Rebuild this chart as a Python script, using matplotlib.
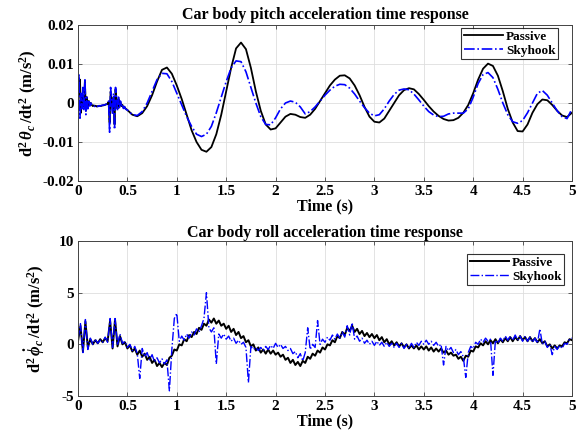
import numpy as np
import matplotlib.pyplot as plt

plt.rcParams['font.family'] = 'Liberation Serif'
plt.rcParams['font.weight'] = 'bold'
plt.rcParams['axes.labelweight'] = 'bold'
plt.rcParams['axes.titleweight'] = 'bold'
plt.rcParams['mathtext.fontset'] = 'custom'
plt.rcParams['mathtext.rm'] = 'Liberation Serif:bold'
plt.rcParams['mathtext.it'] = 'Liberation Serif:italic:bold'
plt.rcParams['mathtext.bf'] = 'Liberation Serif:bold'

# pitch acceleration, units of 1e-3 rad/s^2
# start-up transient, sampled every 0.01 s from 0 to 0.49 s
pitch_passive_start = [0, 3.5, 6.0, -2.5, 2.0, 1.0, -1.0, 5.5, -2.0, 1.5,
                       -1.0, 0.5, -0.5, 0, -0.5, -0.8, -0.6, -0.8, -0.7, -0.9,
                       -0.8, -0.8, -0.7, -0.8, -0.7, -0.6, -0.6, -0.5, -0.4, -0.3,
                       -0.2, 0.3, -5.0, 3.0, 0.5, -2.0, 1.5, -5.5, 3.5, 0.5,
                       -1.5, 1.0, -0.8, 0.2, -0.8, -0.5, -1.2, -1.0, -1.4, -1.6]
pitch_skyhook_start = [0, 7.2, -3.9, 2.5, -1.5, 4.0, -2.0, 6.3, -3.0, 1.5,
                       -1.5, 0.8, -0.8, 0, -0.5, -0.7, -0.6, -0.9, -0.6, -0.8,
                       -0.9, -0.7, -0.8, -0.7, -0.6, -0.6, -0.5, -0.5, -0.4, -0.2,
                       0.0, 0.5, -7.5, 4.0, 1.0, -3.0, 2.5, -6.8, 4.0, 1.5,
                       -2.0, 1.5, -1.2, 0.5, -1.0, -0.3, -1.4, -0.9, -1.5, -1.7]
# remainder, sampled every 0.05 s from 0.5 to 5.0 s
pitch_passive_main = [-1.8, -3.0, -3.4, -2.6, -0.8, 2.0, 5.5, 8.5, 9.1, 7.5,
                      4.5, 1.0, -3.0, -7.0, -10.0, -12.0, -12.5, -11.3, -8.0, -3.0,
                      3.0, 9.0, 14.0, 15.5, 13.8, 9.0, 3.0, -2.0, -5.5, -6.8,
                      -6.5, -5.0, -3.5, -2.8, -3.0, -3.6, -3.8, -3.0, -1.5, 0.5,
                      2.5, 4.5, 6.0, 7.0, 7.1, 6.3, 4.5, 2.0, -1.0, -3.5,
                      -4.8, -5.0, -4.0, -2.0, 0.0, 2.0, 3.3, 3.8, 3.5, 2.3,
                      0.8, -0.8, -2.2, -3.3, -4.1, -4.5, -4.4, -3.8, -2.5, -0.5,
                      2.5, 6.0, 8.8, 10.1, 9.5, 7.0, 3.0, -1.5, -5.0, -7.2,
                      -7.3, -5.5, -2.5, -0.3, 0.9, 0.7, -0.5, -2.0, -3.2, -3.6,
                      -2.5]
pitch_skyhook_main = [-1.8, -3.0, -3.2, -2.2, 0.0, 3.0, 6.0, 7.6, 7.5, 5.5,
                      2.5, -0.5, -3.5, -6.0, -8.0, -8.6, -8.0, -6.0, -2.5, 1.5,
                      5.5, 9.0, 10.8, 10.6, 8.0, 4.0, 0.0, -3.5, -5.5, -5.6,
                      -3.8, -1.5, 0.0, 0.5, 0.2, -1.0, -2.8, -2.2, -1.0, 0.5,
                      2.0, 3.3, 4.3, 4.8, 4.7, 3.8, 2.3, 0.5, -1.2, -2.6,
                      -3.3, -3.0, -1.5, 0.5, 2.2, 3.3, 3.6, 3.4, 2.3, 0.8,
                      -0.8, -2.2, -3.1, -3.5, -3.4, -2.8, -2.6, -2.6, -2.6, -1.5,
                      1.5, 5.0, 7.3, 7.8, 6.5, 3.5, 0.0, -3.0, -4.8, -5.2,
                      -4.5, -2.5, 0.0, 2.5, 3.2, 2.0, 0.0, -2.0, -3.5, -4.0,
                      -1.5]

# roll acceleration (m/s^2), sampled every 0.025 s from 0 to 5 s
roll_passive = [0.3, 1.8, -0.7, 2.2, -0.3, 0.5, 0.0, 0.4, 0.1, 0.5,
                0.2, 0.6, 0.3, 2.3, -0.4, 2.4, -0.2, 0.8, 0.0, 0.2,
                -0.4, -0.1, -0.7, -0.4, -1.0, -0.6, -1.2, -0.9, -1.5, -1.2,
                -1.8, -1.5, -2.1, -1.8, -2.2, -1.8, -2.0, -1.3, -1.1, -0.5,
                -0.6, 0.0, -0.1, 0.5, 0.3, 0.9, 0.7, 1.2, 1.0, 1.6,
                1.4, 2.0, 1.8, 2.4, 2.1, 2.5, 2.0, 2.3, 1.8, 2.0,
                1.5, 1.8, 1.2, 1.5, 0.9, 1.2, 0.6, 0.8, 0.2, 0.4,
                -0.2, 0.0, -0.6, -0.3, -0.8, -0.5, -0.9, -0.5, -0.9, -0.6,
                -1.0, -0.8, -1.2, -1.0, -1.5, -1.3, -1.8, -1.5, -2.0, -1.7,
                -2.1, -1.6, -1.8, -1.2, -1.4, -0.9, -1.1, -0.6, -0.8, -0.3,
                -0.5, 0.0, -0.1, 0.4, 0.2, 0.8, 0.6, 1.2, 0.9, 1.6,
                1.3, 1.8, 1.2, 1.5, 1.0, 1.3, 0.8, 1.1, 0.7, 1.0,
                0.6, 0.9, 0.4, 0.7, 0.2, 0.5, 0.0, 0.3, -0.1, 0.2,
                -0.2, 0.1, -0.3, 0.0, -0.4, -0.1, -0.4, -0.1, -0.5, -0.2,
                -0.5, -0.2, -0.6, -0.3, -0.7, -0.4, -0.7, -0.4, -0.8, -0.6,
                -1.0, -0.8, -1.1, -1.0, -1.4, -1.2, -1.6, -1.1, -1.2, -0.6,
                -0.7, -0.2, -0.3, 0.1, -0.1, 0.3, 0.0, 0.4, 0.1, 0.5,
                0.1, 0.5, 0.2, 0.6, 0.3, 0.7, 0.3, 0.7, 0.4, 0.8,
                0.4, 0.7, 0.3, 0.7, 0.3, 0.6, 0.2, 0.5, 0.1, 0.3,
                -0.2, 0.0, -0.4, -0.1, -0.4, -0.1, -0.2, 0.2, 0.1, 0.5,
                0.4]
roll_skyhook = [0.5, 2.0, -0.8, 2.4, -0.5, 0.6, 0.0, 0.5, 0.1, 0.4,
                0.2, 0.7, 0.2, 2.5, -0.3, 2.5, -0.1, 1.0, 0.1, 0.3,
                -0.3, 0.0, -0.6, -0.2, -0.9, -3.3, -0.4, -1.2, -0.8, -1.5,
                -1.0, -1.7, -1.3, -1.8, -1.4, -1.9, -1.5, -4.5, -0.5, 2.5,
                3.0, 0.3, 0.8, 0.4, 1.0, 0.6, 1.2, 0.9, 1.5, 1.2,
                1.8, 2.5, 5.0, 1.6, 1.2, 1.6, -1.9, 1.0, 0.6, 1.0,
                0.5, 0.8, 0.3, 0.6, 0.1, 0.4, 0.0, 0.2, -0.3, -3.7,
                -0.2, -0.5, -0.3, -0.6, -0.3, -0.6, -0.2, -0.5, -0.1, -0.4,
                0.1, -0.3, 0.0, -0.4, -0.2, -0.6, -0.4, -0.9, -0.7, -1.3,
                -0.9, -1.6, -0.8, 1.6, -0.5, 0.0, -0.3, 2.3, 0.0, 0.5,
                0.2, 0.7, 0.4, 0.9, 0.5, 1.0, 0.6, 1.2, 0.7, 1.8,
                0.9, 2.1, 0.5, 0.8, 0.3, 0.6, 0.1, 0.4, 0.0, 0.3,
                -0.1, 0.3, -0.1, 0.2, -0.2, 0.2, -0.2, 0.1, -0.3, 0.1,
                -0.3, 0.1, -0.4, 0.0, -0.4, 0.1, -0.3, 0.2, -0.1, 0.3,
                0.0, 0.4, 0.0, 0.3, -0.1, 0.2, -0.2, 0.0, -2.0, -0.2,
                -0.6, -0.3, -0.8, -0.5, -1.0, -0.7, -1.2, -3.2, -0.8, -0.2,
                -0.4, 0.2, 0.0, 0.5, 0.2, 0.6, 0.3, 0.5, -3.0, 0.4,
                0.1, 0.6, 0.3, 0.8, 0.4, 0.8, 0.4, 0.9, 0.4, 0.8,
                0.3, 0.8, 0.3, 0.7, 0.2, 0.6, 0.1, 1.5, 0.0, 0.3,
                -0.3, 0.0, -1.0, -0.2, -0.5, -0.1, -0.4, 0.1, 0.0, 0.5,
                0.6]

t_pitch = np.concatenate([np.arange(len(pitch_passive_start)) * 0.01,
                          0.5 + np.arange(len(pitch_passive_main)) * 0.05])
y_pitch_passive = np.array(pitch_passive_start + pitch_passive_main) * 1e-3
y_pitch_skyhook = np.array(pitch_skyhook_start + pitch_skyhook_main) * 1e-3
t_roll_p = np.linspace(0, 5, len(roll_passive))
t_roll_s = np.linspace(0, 5, len(roll_skyhook))

xticks = [0, 0.5, 1, 1.5, 2, 2.5, 3, 3.5, 4, 4.5, 5]
xticklabels = ['0', '0.5', '1', '1.5', '2', '2.5', '3', '3.5', '4', '4.5', '5']

fig = plt.figure(figsize=(5.79, 4.37), dpi=100)
ax1 = fig.add_axes([0.1347, 0.5858, 0.8532, 0.3570])
ax2 = fig.add_axes([0.1347, 0.0938, 0.8532, 0.3547])


def style(ax, legend_anchor):
    ax.set_xlim(0, 5)
    ax.set_xticks(xticks)
    ax.set_xticklabels(xticklabels)
    ax.grid(True, color='#dedede', linewidth=0.6)
    ax.set_axisbelow(True)
    ax.tick_params(direction='in', top=True, right=True, length=3,
                   width=0.6, labelsize=11, pad=3, color='#444444')
    for s in ax.spines.values():
        s.set_color('#444444')
        s.set_linewidth(0.7)
    for lab in ax.get_xticklabels() + ax.get_yticklabels():
        lab.set_fontweight('bold')
    ax.set_xlabel('Time (s)', fontsize=11.5, fontweight='bold', labelpad=0)
    leg = ax.legend(loc='upper right', bbox_to_anchor=legend_anchor,
                    fancybox=False, edgecolor='black',
                    handlelength=3.0, borderpad=0.2, labelspacing=0.1,
                    handletextpad=0.2, borderaxespad=0.0,
                    prop={'weight': 'bold', 'size': 9.5})
    leg.get_frame().set_linewidth(0.8)


ax1.plot(t_pitch, y_pitch_passive, color='black', lw=1.3, label='Passive')
ax1.plot(t_pitch, y_pitch_skyhook, color='#0000ff', lw=1.2, ls='-.', label='Skyhook')
ax1.set_ylim(-0.02, 0.02)
ax1.set_yticks([-0.02, -0.01, 0, 0.01, 0.02])
ax1.set_yticklabels(['-0.02', '-0.01', '0', '0.01', '0.02'])
ax1.set_title('Car body pitch acceleration time response', fontsize=11.5,
              fontweight='bold', pad=4)
ax1.set_ylabel(r'd$^2\,\theta_c\,$/dt$^2$ (m/s$^2$)', fontsize=12,
               fontweight='bold', labelpad=2)
style(ax1, (0.972, 0.98))

ax2.plot(t_roll_p, roll_passive, color='black', lw=1.4, label='Passive')
ax2.plot(t_roll_s, roll_skyhook, color='#0000ff', lw=1.0, ls='-.', label='Skyhook')
ax2.set_ylim(-5, 10)
ax2.set_yticks([-5, 0, 5, 10])
ax2.set_yticklabels(['-5', '0', '5', '10'])
ax2.set_title('Car body roll acceleration time response', fontsize=11.5,
              fontweight='bold', pad=3)
ax2.set_ylabel(r'd$^2\,\dot{\phi}_c\,$/dt$^2$ (m/s$^2$)', fontsize=12,
               fontweight='bold', labelpad=8)
style(ax2, (0.984, 0.915))

fig.savefig('out.png', dpi=100)
